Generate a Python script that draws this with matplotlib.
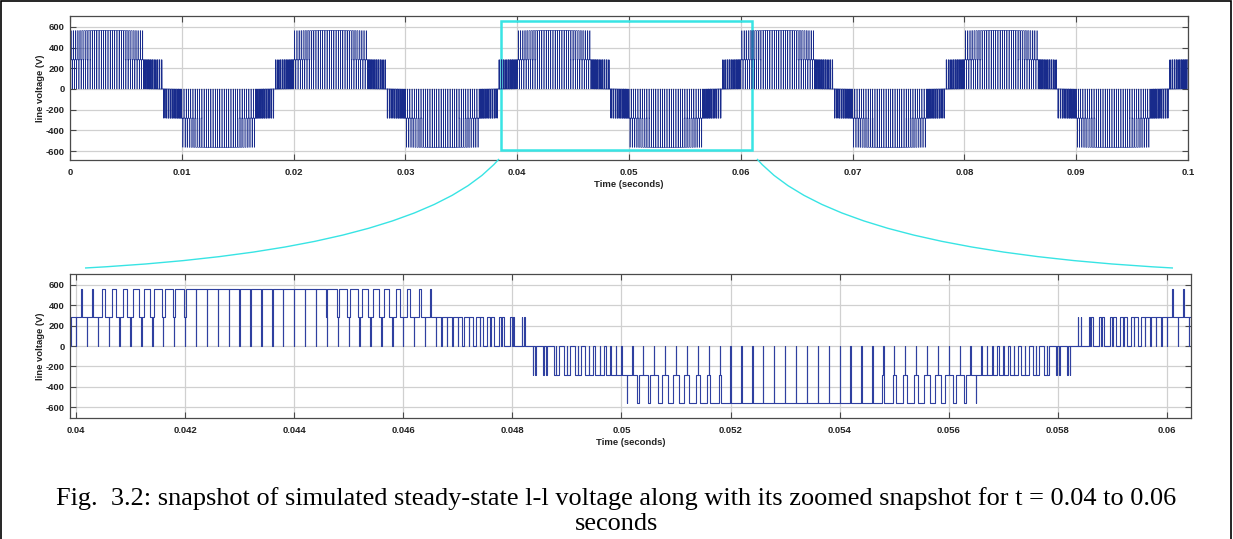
import numpy as np
import matplotlib
matplotlib.use("Agg")
import matplotlib.pyplot as plt
from matplotlib.patches import Rectangle, PathPatch
from matplotlib.path import Path
from matplotlib.ticker import FormatStrFormatter

plt.rcParams["axes.unicode_minus"] = False

# ---- values (simulated 3-level inverter, line-to-line) ----
fundamental_hz = 50.0          # one cycle every 0.02 s
carrier_hz = 5000.0            # one switching period every 0.0002 s
modulation_index = 1.5         # over-modulated references ...
reference_limit = 0.97         # ... clipped just below the carrier peak
level_step_v = 282.0           # voltage steps: 0, ±282, ±564
phase_shift_deg = 120.0        # phase b lags phase a
t_start, t_stop = 0.0, 0.1
zoom_window = (0.03989, 0.06044)
yticks = [-600, -400, -200, 0, 200, 400, 600]
top_xticks = [0, 0.01, 0.02, 0.03, 0.04, 0.05, 0.06, 0.07, 0.08, 0.09, 0.1]
bottom_xticks = [0.04, 0.042, 0.044, 0.046, 0.048, 0.05, 0.052, 0.054, 0.056, 0.058, 0.06]
caption = ("Fig.  3.2: snapshot of simulated steady-state l-l voltage along with its zoomed snapshot for t = 0.04 to 0.06\n"
           "seconds")

# ---- simulate the PWM switching (references vs triangular carrier) ----
dt = 5e-8
t = np.arange(t_start, t_stop + dt, dt)
ph = (t * carrier_hz) % 1.0
carrier = np.abs(1.0 - 2.0 * ph)
w = 2 * np.pi * fundamental_hz
ref_a = np.clip(modulation_index * np.sin(w * t), -reference_limit, reference_limit)
ref_b = np.clip(modulation_index * np.sin(w * t - np.deg2rad(phase_shift_deg)),
                -reference_limit, reference_limit)
sa = np.sign(ref_a) * (np.abs(ref_a) > carrier)
sb = np.sign(ref_b) * (np.abs(ref_b) > carrier)
v = level_step_v * (sa - sb)
chg = np.flatnonzero(np.diff(v)) + 1
keep = np.concatenate(([0], chg, [len(t) - 1]))
tt = t[keep]
vv = v[keep]

W, H = 1233, 539
fig = plt.figure(figsize=(W / 100, H / 100), dpi=100)

def fx(px):
    return px / W

def fy(py):
    return 1 - py / H

grid_col = "#d0d0d0"
spine_col = "#4a4a4a"
tfont = dict(fontsize=6.8, fontweight="bold", family="Liberation Sans")

def style(ax, xticks):
    ax.set_xticks(xticks)
    ax.set_yticks(yticks)
    ax.xaxis.set_major_formatter(FormatStrFormatter("%g"))
    ax.grid(True, color=grid_col, linewidth=0.9)
    ax.set_axisbelow(True)
    for s in ax.spines.values():
        s.set_color(spine_col)
        s.set_linewidth(0.9)
    ax.tick_params(direction="in", length=4, width=0.8, color=spine_col,
                   top=True, right=True, pad=6)
    ax.tick_params(axis="y", pad=4)
    for lab in ax.get_xticklabels() + ax.get_yticklabels():
        lab.set_fontsize(6.8)
        lab.set_fontweight("bold")
        lab.set_family("Liberation Sans")
        lab.set_color("#222222")
    ax.set_ylabel("line voltage (V)", color="#222222", **tfont)
    ax.yaxis.set_label_coords(-0.022, 0.5)
    ax.set_xlabel("Time (seconds)", labelpad=2, color="#222222", **tfont)

ax1 = fig.add_axes([fx(70), fy(160), fx(1188 - 70), fy(16) - fy(160)])
ax1.step(tt, vv, where="post", color="#182b8c", linewidth=0.45)
ax1.set_xlim(t_start, t_stop)
ax1.set_ylim(-687, 706)
style(ax1, top_xticks)

ax2 = fig.add_axes([fx(70), fy(418), fx(1191 - 70), fy(274) - fy(418)])
ax2.step(tt, vv, where="post", color="#2f40a0", linewidth=0.8)
ax2.set_xlim(*zoom_window)
ax2.set_ylim(-708, 708)
style(ax2, bottom_xticks)

# cyan zoom rectangle on the top axes
cyan = "#38e4e4"
rect = Rectangle((0.03852, -590), 0.06103 - 0.03852, 658 + 590, fill=False,
                 edgecolor=cyan, linewidth=1.8, transform=ax1.transData, clip_on=False)
ax1.add_patch(rect)

# connecting curves (figure pixel space)
def curve(p0, pc, p1):
    verts = [(fx(p0[0]), fy(p0[1])), (fx(pc[0]), fy(pc[1])), (fx(p1[0]), fy(p1[1]))]
    return PathPatch(Path(verts, [Path.MOVETO, Path.CURVE3, Path.CURVE3]),
                     fill=False, edgecolor=cyan, linewidth=1.0, transform=fig.transFigure)

fig.add_artist(curve((499, 159), (420, 250), (85, 268)))
fig.add_artist(curve((757, 159), (836, 250), (1173, 268)))

# caption
fig.text(0.5, fy(511), caption, ha="center", va="center", fontsize=18.9,
         family="Liberation Serif", linespacing=1.12)

# outer frame
fig.add_artist(Rectangle((fx(1), fy(545)), fx(1230), fy(1) - fy(545), fill=False,
                         edgecolor="black", linewidth=1.2, transform=fig.transFigure))

fig.savefig("out.png", dpi=100)
